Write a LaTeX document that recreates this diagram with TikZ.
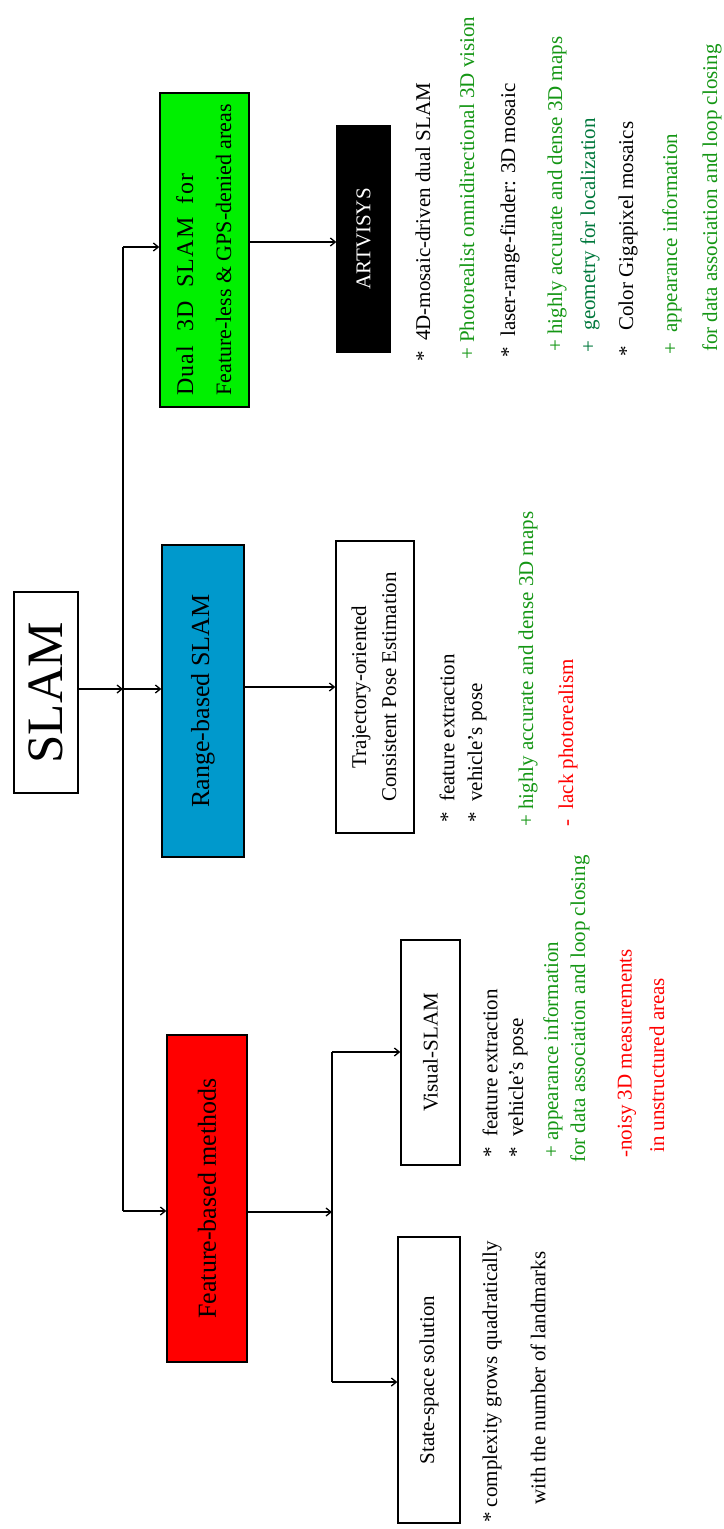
\documentclass[tikz,border=0pt]{standalone}
\usepackage{fontspec}
\setmainfont{Liberation Serif}
\usetikzlibrary{arrows.meta}
\definecolor{boxgreen}{RGB}{0,240,0}
\definecolor{boxblue}{RGB}{0,153,204}
\definecolor{boxred}{RGB}{255,0,0}
\definecolor{txtgreen}{RGB}{20,150,20}
\definecolor{txtdkgreen}{RGB}{0,120,60}
\definecolor{txtred}{RGB}{255,0,0}
\newcommand\fsnote{\fontsize{21}{25}\selectfont}
\begin{document}
\begin{tikzpicture}[x=1pt,y=-1pt]
\tikzset{
  box/.style={draw=black, line width=1.3pt, inner sep=0pt, align=center},
  note/.style={rotate=90, anchor=west, inner sep=0pt, font=\fsnote},
  conn/.style={line width=1.3pt},
  arr/.style={conn, -{Straight Barb[length=5pt,width=8pt]}}
}
\useasboundingbox (0,0) rectangle (723,1529);

% root
\node[box, fill=white, minimum width=64pt, minimum height=201pt] (slam) at (46,692.5)
  {\rotatebox{90}{\fontsize{51}{55}\selectfont SLAM}};

% first level
\node[box, fill=boxgreen, minimum width=89pt, minimum height=314pt] (dual) at (204.5,250)
  {\rotatebox{90}{\fontsize{22}{38}\selectfont\begin{tabular}{@{}l@{}}{\fontsize{24}{38}\selectfont\addfontfeature{LetterSpace=5}\makebox[222pt][s]{Dual 3D SLAM for}}\\Feature-less \& GPS-denied areas\end{tabular}}};
\node[box, fill=boxblue, minimum width=82pt, minimum height=312pt] (range) at (203,701)
  {\rotatebox{90}{\fontsize{26}{30}\selectfont Range-based SLAM}};
\node[box, fill=boxred, minimum width=80pt, minimum height=327pt] (feat) at (207,1198.5)
  {\rotatebox{90}{\fontsize{26}{30}\selectfont Feature-based methods}};

% second level
\node[box, fill=black, text=white, minimum width=53pt, minimum height=226pt] (art) at (363.5,239)
  {\rotatebox{90}{\fsnote ARTVISYS}};
\node[box, fill=white, minimum width=78pt, minimum height=292pt] (traj) at (375,687)
  {\rotatebox{90}{\fontsize{21}{30}\selectfont\begin{tabular}{@{}c@{}}Trajectory-oriented\\Consistent Pose Estimation\end{tabular}}};
\node[box, fill=white, minimum width=59pt, minimum height=225pt] (vis) at (430.5,1052.5)
  {\rotatebox{90}{\fsnote Visual-SLAM}};
\node[box, fill=white, minimum width=62pt, minimum height=286pt] (state) at (429,1380)
  {\rotatebox{90}{\fsnote State-space solution}};

% connectors
\coordinate (jS) at (123,689);
\coordinate (jG) at (123,247);
\coordinate (jF) at (123,1211);
\draw[conn] (jG) -- (jF);
\draw[arr] (slam.east |- jS) -- (jS);
\draw[arr] (jS) -- (jS -| range.west);
\draw[arr] (jG) -- (jG -| dual.west);
\draw[arr] (jF) -- (jF -| feat.west);

\coordinate (aA) at (300,242);
\draw[arr] (dual.east |- aA) -- (aA -| art.west);
\coordinate (aR) at (290,687);
\draw[arr] (range.east |- aR) -- (aR -| traj.west);

\coordinate (aF) at (332,1212);
\coordinate (jV) at (332,1052);
\coordinate (jT) at (332,1382);
\draw[arr] (feat.east |- aF) -- (aF);
\draw[conn] (jV) -- (jT);
\draw[arr] (jV) -- (jV -| vis.west);
\draw[arr] (jT) -- (jT -| state.west);

% notes: ARTVISYS
\node[note] (a1) at (423,362) {*\ \ 4D-mosaic-driven dual SLAM};
\node[note, text=txtgreen] (a2) at (467,360) {+ Photorealist omnidirectional 3D vision};
\node[note] (a3) at (510,358) {*\ \ laser-range-finder: 3D mosaic};
\node[note, text=txtgreen] (a4) at (557,352) {+ highly accurate and dense 3D maps};
\node[note, text=txtdkgreen] (a5) at (590,353) {+ \ geometry for localization};
\node[note] (a6) at (628,357) {*\ \ \ Color Gigapixel mosaics};
\node[note, text=txtgreen] (a7) at (672,355) {+ \ appearance information};
\node[note, text=txtgreen] (a8) at (712,352) {for data association and loop closing};

% notes: trajectory-oriented
\node[note] (r1) at (447,823) {*\ \ feature extraction};
\node[note] (r2) at (477,823) {*\ \ vehicle's pose};
\node[note, text=txtgreen] (r3) at (528,827) {+ highly accurate and dense 3D maps};
\node[note, text=txtred] (r4) at (568,827) {- \ lack photorealism};

% notes: visual SLAM
\node[note] (v1) at (490,1158) {*\ \ feature extraction};
\node[note] (v2) at (518,1158) {*\ \ vehicle's pose};
\node[note, text=txtgreen] (v3) at (553,1158) {+ appearance information};
\node[note, text=txtgreen] (v4) at (580,1163) {for data association and loop closing};
\node[note, text=txtred] (v5) at (627,1158) {-noisy 3D measurements};
\node[note, text=txtred] (v6) at (657,1153) {in unstructured areas};

% notes: state-space
\node[note] (s1) at (492,1523) {* complexity grows quadratically};
\node[note] (s2) at (538,1505) {with the number of landmarks};
\end{tikzpicture}
\end{document}
